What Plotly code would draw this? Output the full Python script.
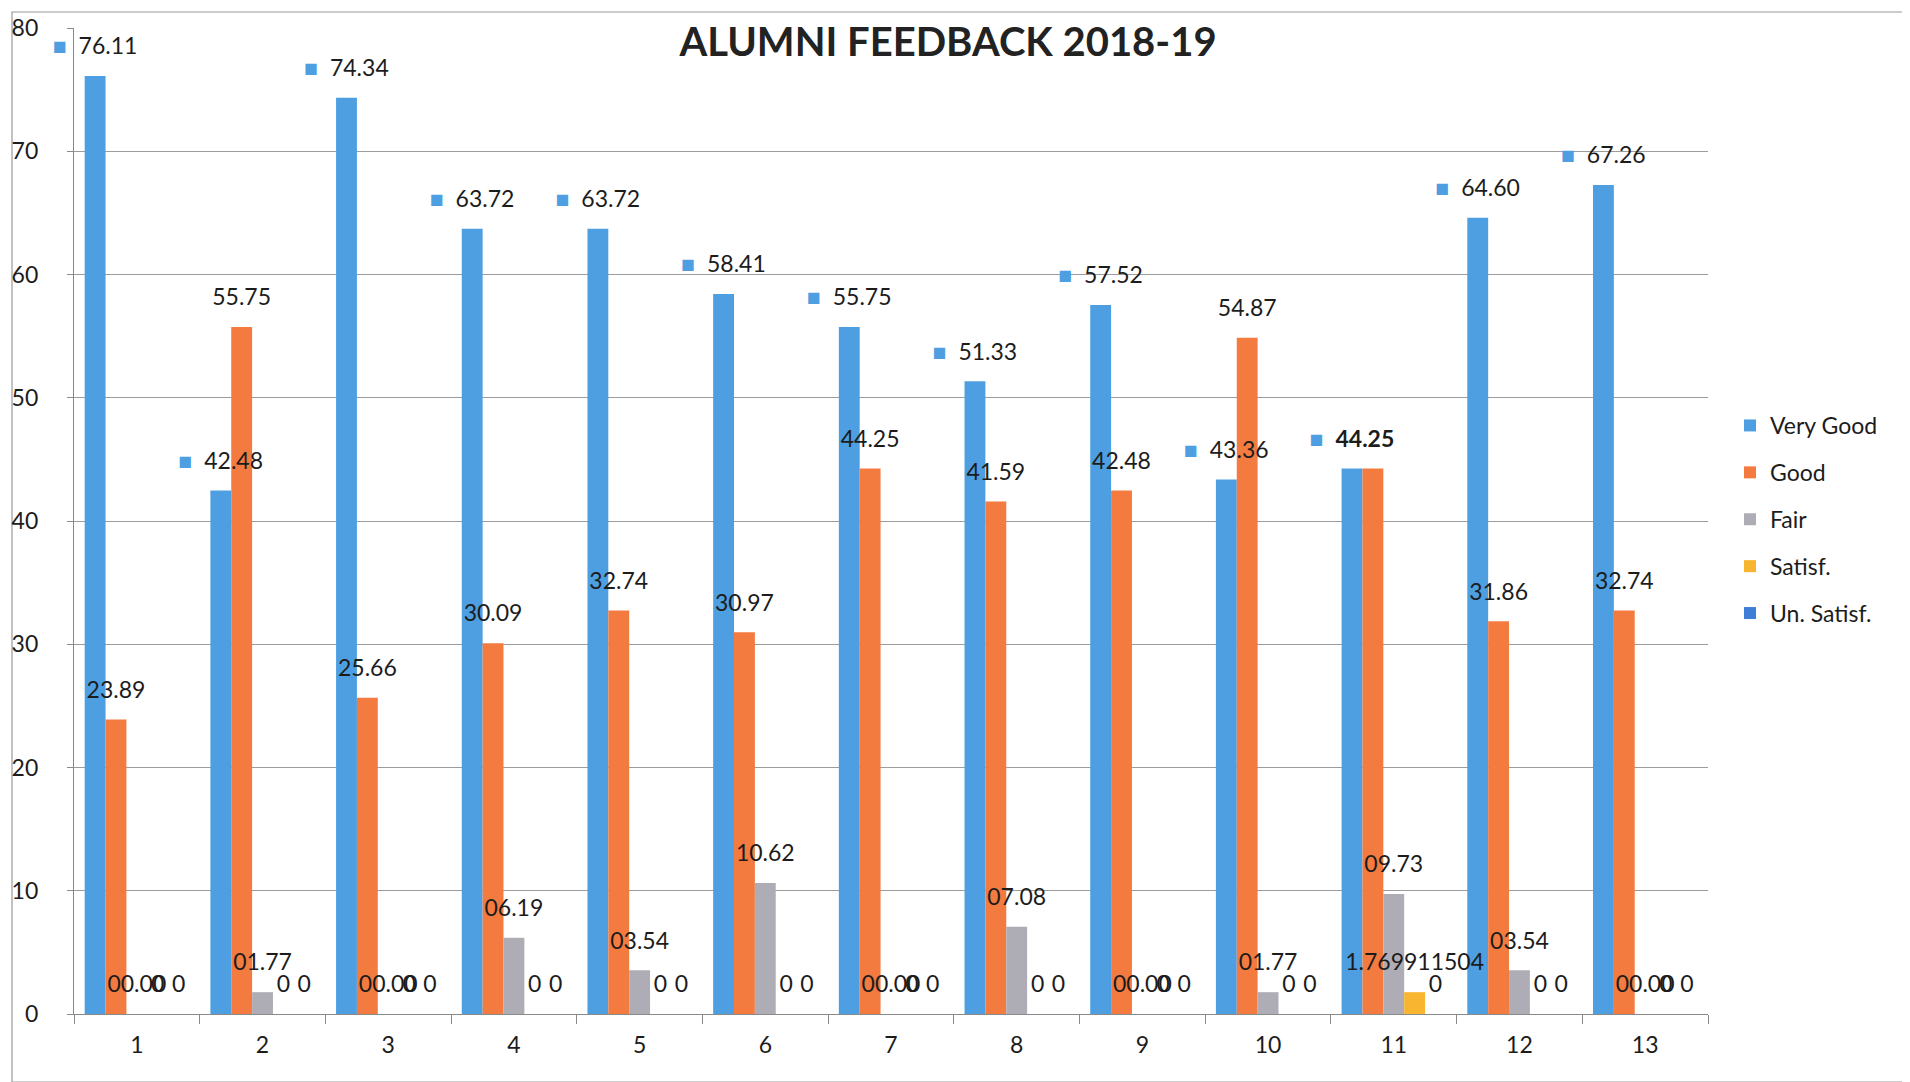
import plotly.graph_objects as go

categories = [str(i) for i in range(1, 14)]
very_good = [76.11, 42.48, 74.34, 63.72, 63.72, 58.41, 55.75, 51.33, 57.52, 43.36, 44.25, 64.60, 67.26]
good = [23.89, 55.75, 25.66, 30.09, 32.74, 30.97, 44.25, 41.59, 42.48, 54.87, 44.25, 31.86, 32.74]
fair = [0.00, 1.77, 0.00, 6.19, 3.54, 10.62, 0.00, 7.08, 0.00, 1.77, 9.73, 3.54, 0.00]
satisf = [0, 0, 0, 0, 0, 0, 0, 0, 0, 0, 1.769911504, 0, 0]
un_satisf = [0, 0, 0, 0, 0, 0, 0, 0, 0, 0, 0, 0, 0]
series_names = ["Very Good", "Good", "Fair", "Satisf.", "Un. Satisf."]
colors = ["#4E9FE2", "#F47B40", "#AEADB5", "#F8B530", "#3D7ED6"]

W, H = 1910, 1082
L, R, T, B = 66, 1700, 20, 1006

FONT = "Lato"
TXT = "#1c1c1c"
LBL = 23
GAP = 0.17

vg_text = []
for i, v in enumerate(very_good):
    num = f"<b>{v:.2f}</b>" if i == 10 else f"{v:.2f}"
    vg_text.append(f'<span style="color:{colors[0]}">■</span>  {num}')
good_text = [f"{v:.2f}" for v in good]
good_text[10] = ""
fair_text = [f"{v:05.2f}" for v in fair]
sat_text = [f"{v:.10g}" for v in satisf]
un_text = [f"{v:.10g}" for v in un_satisf]

all_vals = [very_good, good, fair, satisf, un_satisf]
all_text = [vg_text, good_text, fair_text, sat_text, un_text]

fig = go.Figure()
for k in range(5):
    fig.add_trace(go.Bar(
        x=categories, y=all_vals[k], name=series_names[k],
        marker=dict(color=colors[k], line=dict(width=0)),
        legendgroup=series_names[k], hoverinfo="x+y+name",
    ))
# data labels as grouped scatter text, drawn above all bars
for k in range(5):
    fig.add_trace(go.Scatter(
        x=categories, y=all_vals[k], mode="markers+text",
        marker=dict(size=24, color="rgba(0,0,0,0)", line=dict(width=0)),
        text=all_text[k], textposition="top center", cliponaxis=False,
        textfont=dict(family=FONT, size=LBL, color=TXT),
        showlegend=False, hoverinfo="skip",
    ))

def px_to_paper_x(p):
    return (p - L) / (R - L)

def px_to_paper_y(p):
    return 1 - (p - T) / (B - T)

fig.update_layout(
    width=W, height=H,
    margin=dict(l=L, r=W - R, t=T, b=H - B, autoexpand=False),
    paper_bgcolor="white", plot_bgcolor="white",
    barmode="group", bargap=GAP, bargroupgap=0.0,
    scattermode="group", scattergap=GAP,
    font=dict(family=FONT, size=22, color=TXT),
    title=dict(text="<b>ALUMNI FEEDBACK 2018-19</b>", x=940 / W, xanchor="center",
               y=1 - 34 / H, yanchor="middle", font=dict(family=FONT, size=40, color="#222222")),
    showlegend=True,
    legend=dict(orientation="v", x=px_to_paper_x(1722), xanchor="left",
                y=px_to_paper_y(396), yanchor="top", tracegroupgap=14,
                font=dict(family=FONT, size=23, color=TXT), bgcolor="rgba(0,0,0,0)"),
    xaxis=dict(type="category", showline=True, linecolor="#8a8a8a", linewidth=1.3,
               ticks="outside", tickson="boundaries", ticklen=9, tickcolor="#8a8a8a",
               showgrid=False, tickfont=dict(family=FONT, size=23, color=TXT), ticklabelstandoff=10),
    yaxis=dict(range=[0, 80], dtick=10, showline=True, linecolor="#8a8a8a", linewidth=1.3,
               ticks="outside", ticklen=6, tickcolor="#8a8a8a", ticklabelstandoff=24,
               showgrid=True, gridcolor="#9c9c9c", gridwidth=1.3, zeroline=False,
               tickfont=dict(family=FONT, size=23, color=TXT)),
)

fig.add_shape(type="rect", xref="paper", yref="paper",
              x0=px_to_paper_x(4), x1=px_to_paper_x(1896),
              y0=px_to_paper_y(1074), y1=px_to_paper_y(4),
              line=dict(color="#9a9a9a", width=1.2), fillcolor="rgba(0,0,0,0)", layer="below")

fig.write_html("out.html")
